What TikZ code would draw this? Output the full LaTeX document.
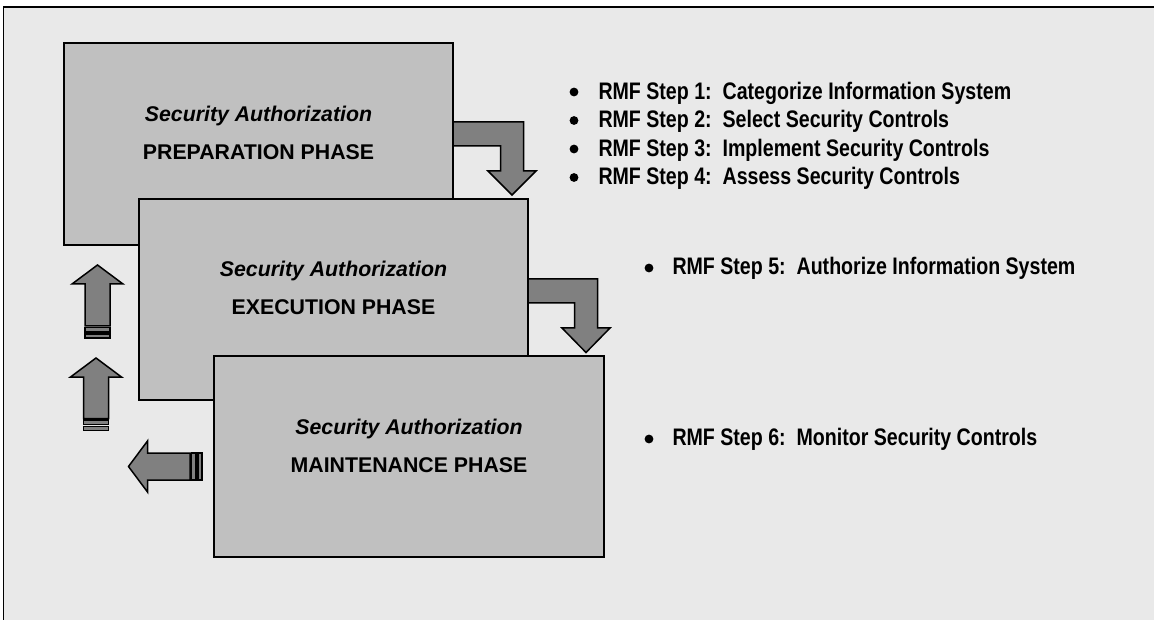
\documentclass[tikz,border=0pt]{standalone}
\usepackage{fontspec}
\setmainfont{Liberation Sans}
\newfontfamily\narrowfont{Liberation Sans}[FakeStretch=0.82]
\usetikzlibrary{calc}
\definecolor{bgcol}{HTML}{E9E9E9}
\definecolor{boxcol}{HTML}{C0C0C0}
\definecolor{arrcol}{HTML}{808080}
\begin{document}
\frenchspacing
\begin{tikzpicture}[x=1pt,y=-1pt,
  phasebox/.style={draw=black, line width=1.6pt, fill=boxcol, rectangle, inner sep=0pt, outer sep=0pt, anchor=north west},
  satext/.style={font=\fontsize{21.3}{25}\selectfont\bfseries\itshape, inner sep=0pt, anchor=base},
  phtext/.style={font=\fontsize{21.3}{25}\selectfont\bfseries, inner sep=0pt, anchor=base},
  itemtext/.style={font=\narrowfont\bfseries\fontsize{23.9}{28}\selectfont, inner sep=0pt, anchor=base west},
  blockarrow/.style={draw=black, line width=1.5pt, fill=arrcol, line join=miter},
  dot/.style={fill=black}
]
\useasboundingbox (0,0) rectangle (1154,620);
\clip (0,0) rectangle (1154,620);
% outer frame
\fill[bgcol] (3.5,7) rectangle (1170,640);
\draw[line width=1.6pt] (1170,7) -- (3.5,7) -- (3.5,640);

% phase boxes
\node[phasebox, minimum width=389pt, minimum height=202pt] (prep) at (64,43) {};
\node[phasebox, minimum width=389pt, minimum height=201pt] (exec) at (139,199) {};
\node[phasebox, minimum width=390pt, minimum height=201pt] (maint) at (214,356) {};

\node[satext] (prepsa) at ($(prep.north)+(0,79)$) {Security Authorization};
\node[phtext] (prepph) at ($(prep.north)+(0,117)$) {PREPARATION PHASE};
\node[satext] (execsa) at ($(exec.north)+(0,78)$) {Security Authorization};
\node[phtext] (execph) at ($(exec.north)+(0,116)$) {EXECUTION PHASE};
\node[satext] (maintsa) at ($(maint.north)+(0,78)$) {Security Authorization};
\node[phtext] (maintph) at ($(maint.north)+(0,116)$) {MAINTENANCE PHASE};

% bent arrows between boxes
\draw[blockarrow] (453,122) -- (523.5,122) -- (523.5,171) -- (536,171) -- (512,195)
  -- (488,171) -- (500.5,171) -- (500.5,146) -- (453,146) -- cycle;
\draw[blockarrow] (528,279) -- (597.5,279) -- (597.5,328) -- (610,328) -- (586,352.5)
  -- (562,328) -- (574.5,328) -- (574.5,303) -- (528,303) -- cycle;

% up arrows (striped)
\draw[blockarrow] (97.5,265) -- (123,284) -- (110,284) -- (110,326) -- (85,326) -- (85,284) -- (72,284) -- cycle;
\draw[blockarrow] (85,327.5) rectangle (110,332);
\draw[blockarrow] (85,334) rectangle (110,338);
\draw[blockarrow] (96,358) -- (121.5,377) -- (108.5,377) -- (108.5,418.5) -- (83.5,418.5) -- (83.5,377) -- (70.5,377) -- cycle;
\draw[blockarrow] (83.5,420) rectangle (108.5,424.5);
\draw[blockarrow] (83.5,426.5) rectangle (108.5,430.5);

% left arrow (striped)
\draw[blockarrow] (128.5,466.5) -- (147.5,441) -- (147.5,453) -- (190,453) -- (190,480) -- (147.5,480) -- (147.5,492) -- cycle;
\draw[blockarrow] (191.5,453) rectangle (196,480);
\draw[blockarrow] (198,453) rectangle (202,480);

% bullet lists
\fill[dot] (574,92) circle (4.4);
\fill[dot] (574,120.5) circle (4.4);
\fill[dot] (574,149) circle (4.4);
\fill[dot] (574,177.5) circle (4.4);
\node[itemtext] (s1) at (598.3,99.3) {RMF Step 1:\ \ Categorize Information System};
\node[itemtext] (s2) at (598.3,127.7) {RMF Step 2:\ \ Select Security Controls};
\node[itemtext] (s3) at (598.3,156.1) {RMF Step 3:\ \ Implement Security Controls};
\node[itemtext] (s4) at (598.3,184.6) {RMF Step 4:\ \ Assess Security Controls};

\fill[dot] (649,268) circle (4.4);
\node[itemtext] (s5) at (672.3,275) {RMF Step 5:\ \ Authorize Information System};
\fill[dot] (649,439) circle (4.4);
\node[itemtext] (s6) at (672.3,445.7) {RMF Step 6:\ \ Monitor Security Controls};
\end{tikzpicture}
\end{document}
